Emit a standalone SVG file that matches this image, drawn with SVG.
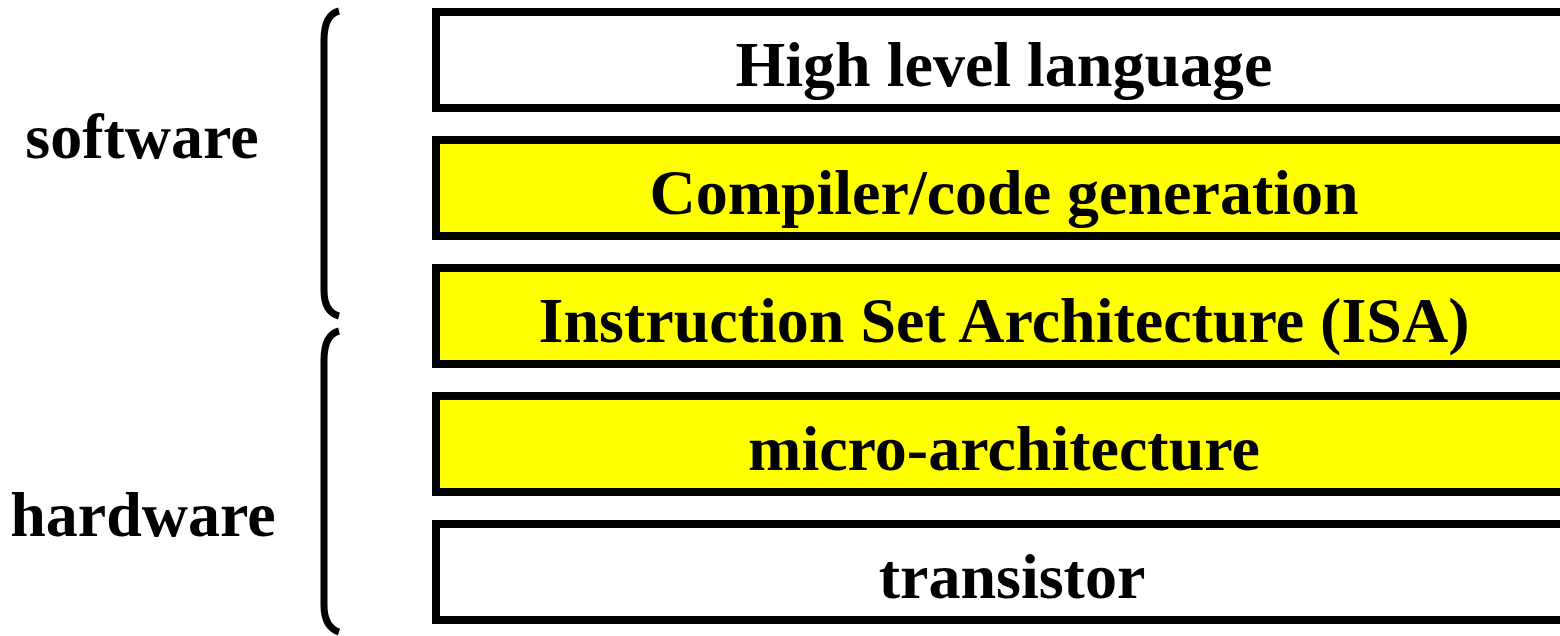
<svg xmlns="http://www.w3.org/2000/svg" width="1560" height="636" viewBox="0 0 1560 636">
  <style>
    .layer { stroke: #000; stroke-width: 8; }
    .white { fill: #fff; }
    .yellow { fill: #ffff00; }
    .label { font-family: "Liberation Serif", "Times New Roman", serif; font-weight: bold; font-size: 64px; fill: #000; text-anchor: middle; }
    .brace { fill: none; stroke: #000; stroke-width: 7; stroke-linecap: butt; }
  </style>
  <rect width="1560" height="636" fill="#fff"/>

  <g id="layer-hll">
    <rect class="layer white" x="436" y="12" width="1140" height="96"/>
    <text class="label" x="1004" y="86">High level language</text>
  </g>
  <g id="layer-compiler">
    <rect class="layer yellow" x="436" y="140" width="1140" height="96"/>
    <text class="label" x="1004" y="214">Compiler/code generation</text>
  </g>
  <g id="layer-isa">
    <rect class="layer yellow" x="436" y="268" width="1140" height="96"/>
    <text class="label" x="1004" y="342">Instruction Set Architecture (ISA)</text>
  </g>
  <g id="layer-uarch">
    <rect class="layer yellow" x="436" y="396" width="1140" height="96"/>
    <text class="label" x="1004" y="470">micro-architecture</text>
  </g>
  <g id="layer-transistor">
    <rect class="layer white" x="436" y="524" width="1140" height="96"/>
    <text class="label" x="1012" y="598">transistor</text>
  </g>

  <g id="braces">
    <path class="brace" d="M339,11 Q324,15 324,40 L324,290 Q324,312 339,316"/>
    <path class="brace" d="M339,331 Q324,335 324,360 L324,605 Q324,627 339,632"/>
  </g>

  <g id="group-software">
    <text class="label" x="142" y="158">software</text>
  </g>
  <g id="group-hardware">
    <text class="label" x="143" y="536">hardware</text>
  </g>
</svg>
